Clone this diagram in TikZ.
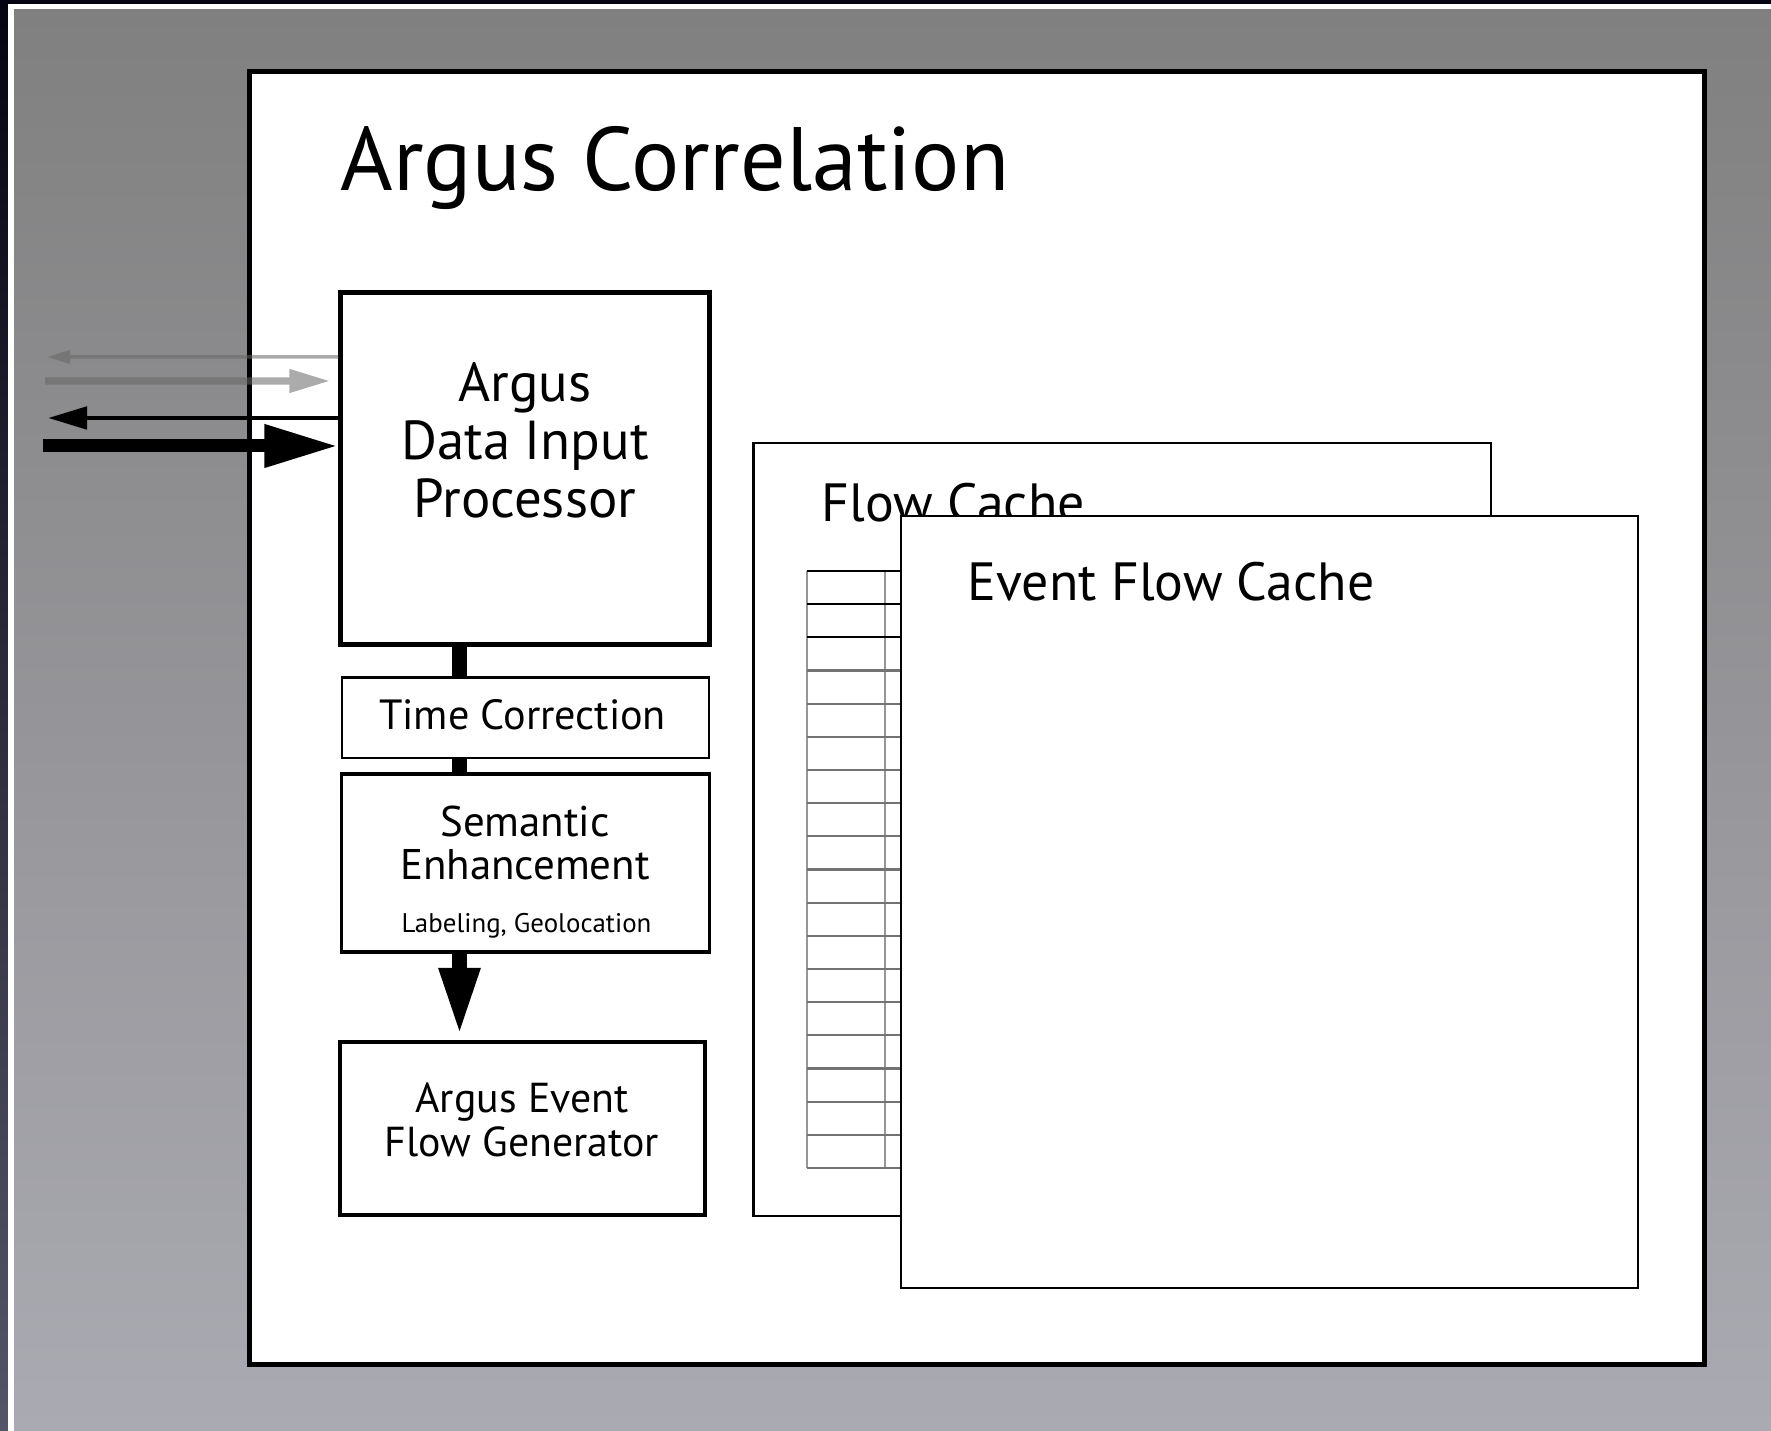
\documentclass[tikz,border=0pt]{standalone}
\usepackage{fontspec}
\setmainfont{PT Sans}
\usetikzlibrary{arrows.meta,positioning,calc}
\definecolor{slidetop}{RGB}{128,128,128}
\definecolor{slidebottom}{RGB}{170,170,178}
\definecolor{edgetop}{RGB}{4,4,18}
\definecolor{edgebottom}{RGB}{85,85,105}
\definecolor{cellline}{RGB}{150,150,150}

\tikzset{
    stage/.style={draw=black, fill=white, inner sep=0pt},
    stagetext/.style={anchor=north, inner sep=0pt, align=center},
    spine/.style={line width=4pt},
}

\begin{document}
\begin{tikzpicture}[x=0.01cm, y=-0.01cm]
    \useasboundingbox (0,0) rectangle (1771,1431);

    % Slide background
    \fill[top color=edgetop, bottom color=edgebottom] (0,0) rectangle (1771,1431);
    \fill[white] (8,4) rectangle (1771,1431);
    \fill[top color=slidetop, bottom color=slidebottom] (14,10) rectangle (1771,1431);

    % Outer frame
    \node[stage, line width=1.4pt, minimum width=14.54cm, minimum height=12.93cm] (frame) at (977,718) {};
    \node[anchor=north west, inner sep=0pt, font=\fontsize{25.6}{30}\selectfont] (title) at (340,126) {Argus Correlation};

    % Processing chain
    \node[stage, line width=1.4pt, minimum width=3.68cm, minimum height=3.51cm] (dip) at (525,468.5) {};
    \node[stage, line width=0.75pt, minimum width=3.67cm, minimum height=0.805cm] (tc) at (525.5,717.75) {};
    \node[stage, line width=0.9pt, minimum width=3.67cm, minimum height=1.78cm] (se) at (525.5,863) {};
    \node[stage, line width=1.1pt, minimum width=3.65cm, minimum height=1.73cm] (aefg) at (522.5,1128.5) {};

    \node[stagetext, font=\fontsize{15.6}{16.5}\selectfont] (diptext) at (525,362) {Argus\\Data Input\\Processor};
    \node[stagetext, font=\fontsize{12}{13}\selectfont] (tctext) at (522.5,699) {Time Correction};
    \node[stagetext, font=\fontsize{12.2}{12.2}\selectfont] (setext) at (525,805) {Semantic\\Enhancement};
    \node[stagetext, font=\fontsize{7.65}{8}\selectfont] (selabel) at (526.5,913) {Labeling, Geolocation};
    \node[stagetext, font=\fontsize{11.9}{12.4}\selectfont] (aefgtext) at (522,1082) {Argus Event\\Flow Generator};

    % Spine between stages
    \coordinate (axis) at (459.5,0);
    \draw[spine] (dip.south -| axis) -- (tc.north -| axis);
    \draw[spine] (tc.south -| axis) -- (se.north -| axis);
    \draw[spine, -{Triangle[length=6.7mm, width=3.8mm]}, shorten >=0.5mm] (se.south -| axis) -- (aefg.north -| axis);

    % Input / output feeds
    \coordinate (feedA) at (47,357);
    \coordinate (feedB) at (45,381);
    \coordinate (feedC) at (48,418);
    \coordinate (feedD) at (43,446);
    \begin{scope}[transparency group, opacity=0.55]
        \draw[black!60, line width=1pt, -{Triangle[length=2.3mm, width=1.3mm]}] (feedA -| dip.west) -- (feedA);
        \draw[black!60, line width=2pt, -{Triangle[length=4.1mm, width=2.2mm]}, shorten >=0.8mm] (feedB) -- (feedB -| dip.west);
    \end{scope}
    \draw[line width=1.4pt, -{Triangle[length=3.9mm, width=2.2mm]}] (feedC -| dip.west) -- (feedC);
    \draw[line width=3.7pt, -{Triangle[length=7.4mm, width=4mm]}] (feedD) -- (feedD -| dip.west);

    % Flow cache with its table
    \node[stage, line width=0.7pt, minimum width=7.375cm, minimum height=7.73cm] (fc) at (1122.25,829.5) {};
    \node[anchor=north west, inner sep=0pt, font=\fontsize{15.3}{17}\selectfont] (fctext) at (821,482) {Flow Cache};
    \draw[cellline, line width=0.6pt] (807,571) -- (807,1168);
    \draw[cellline, line width=0.6pt] (885,571) -- (885,1168);
    \foreach \r in {0,...,18} {
        \ifnum\r<3
            \draw[black, line width=0.5pt] (807,571+33.17*\r) -- (901,571+33.17*\r);
        \else
            \draw[black!55, line width=0.6pt] (807,571+33.17*\r) -- (901,571+33.17*\r);
        \fi
    }

    % Event flow cache
    \node[stage, line width=0.7pt, minimum width=7.37cm, minimum height=7.72cm] (efc) at (1269.5,902) {};
    \node[anchor=north west, inner sep=0pt, font=\fontsize{15.3}{17}\selectfont] (efctext) at (967,561) {Event Flow Cache};
\end{tikzpicture}
\end{document}
